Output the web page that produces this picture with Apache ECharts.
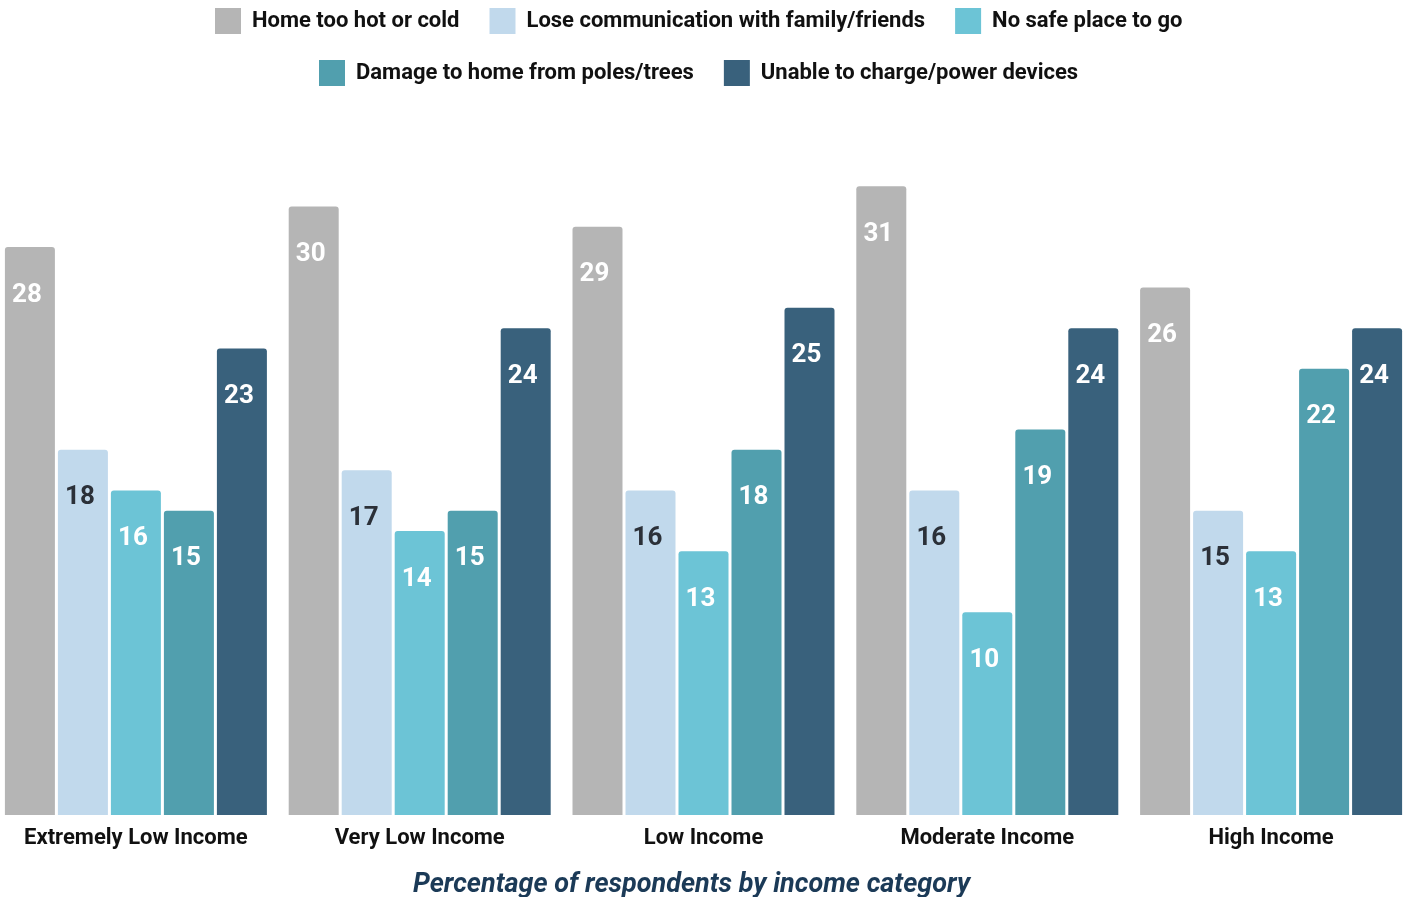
<!DOCTYPE html>
<html>
<head>
<meta charset="utf-8">
<script src="https://cdn.jsdelivr.net/npm/echarts@6/dist/echarts.min.js"></script>
<style>
  html, body { margin: 0; padding: 0; background: #fff; overflow: hidden; }
  /* plot area runs a few pixels past both window edges */
  #chart { width: 1419px; height: 897px; margin-left: -6px; }
</style>
</head>
<body>
<div id="chart"></div>
<script>
// Income categories along the x axis
const categories = ['Extremely Low Income', 'Very Low Income', 'Low Income', 'Moderate Income', 'High Income'];

// Share of respondents (%) reporting each outage impact
const homeTooHotOrCold = [28, 30, 29, 31, 26];
const loseCommunication = [18, 17, 16, 16, 15];
const noSafePlace = [16, 14, 13, 10, 13];
const damageFromPolesTrees = [15, 15, 18, 19, 22];
const unableToCharge = [23, 24, 25, 24, 24];

const seriesNames = [
  'Home too hot or cold',
  'Lose communication with family/friends',
  'No safe place to go',
  'Damage to home from poles/trees',
  'Unable to charge/power devices'
];
const seriesData = [homeTooHotOrCold, loseCommunication, noSafePlace, damageFromPolesTrees, unableToCharge];
const colors = ['#b5b5b5', '#c1d9ec', '#6cc4d6', '#519fae', '#39617c'];
const labelColors = ['#ffffff', '#2b3038', '#ffffff', '#ffffff', '#ffffff'];

const FONT = 'Roboto, "Noto Sans", sans-serif';

const chart = echarts.init(document.getElementById('chart'), null, { renderer: 'canvas' });

const legendCommon = {
  itemWidth: 26,
  itemHeight: 26,
  itemGap: 30,
  padding: 0,
  icon: 'rect',
  selectedMode: false,
  textStyle: {
    fontFamily: FONT,
    fontSize: 22,
    fontWeight: 'bold',
    color: '#111',
    padding: [0, 0, 0, 6]
  }
};

chart.setOption({
  color: colors,
  animation: false,
  legend: [
    Object.assign({}, legendCommon, { top: 8, left: 221, data: seriesNames.slice(0, 3) }),
    Object.assign({}, legendCommon, { top: 60, left: 325, data: seriesNames.slice(3) })
  ],
  title: {
    text: 'Percentage of respondents by income category',
    left: 419,
    top: 872,
    padding: 0,
    textStyle: {
      fontFamily: FONT,
      fontSize: 27,
      fontWeight: 'bold',
      fontStyle: 'italic',
      color: '#1b3a57'
    }
  },
  grid: {
    left: 0,
    right: 0,
    top: 105,
    bottom: 82,
    containLabel: false
  },
  xAxis: {
    type: 'category',
    data: categories,
    axisLine: { show: false },
    axisTick: { show: false },
    axisLabel: {
      interval: 0,
      margin: 12,
      fontFamily: FONT,
      fontSize: 22,
      fontWeight: 'bold',
      color: '#111'
    }
  },
  yAxis: {
    type: 'value',
    min: 0,
    max: 35,
    show: false,
    splitLine: { show: false }
  },
  series: seriesNames.map((name, i) => ({
    name: name,
    type: 'bar',
    data: seriesData[i],
    barWidth: 50,
    barGap: '6%',
    itemStyle: { color: colors[i], borderRadius: [3, 3, 0, 0] },
    label: {
      show: true,
      position: 'insideTop',
      distance: 35,
      offset: [-3, 0],
      fontFamily: FONT,
      fontSize: 26,
      fontWeight: 'bold',
      color: labelColors[i]
    }
  }))
});
</script>
</body>
</html>
